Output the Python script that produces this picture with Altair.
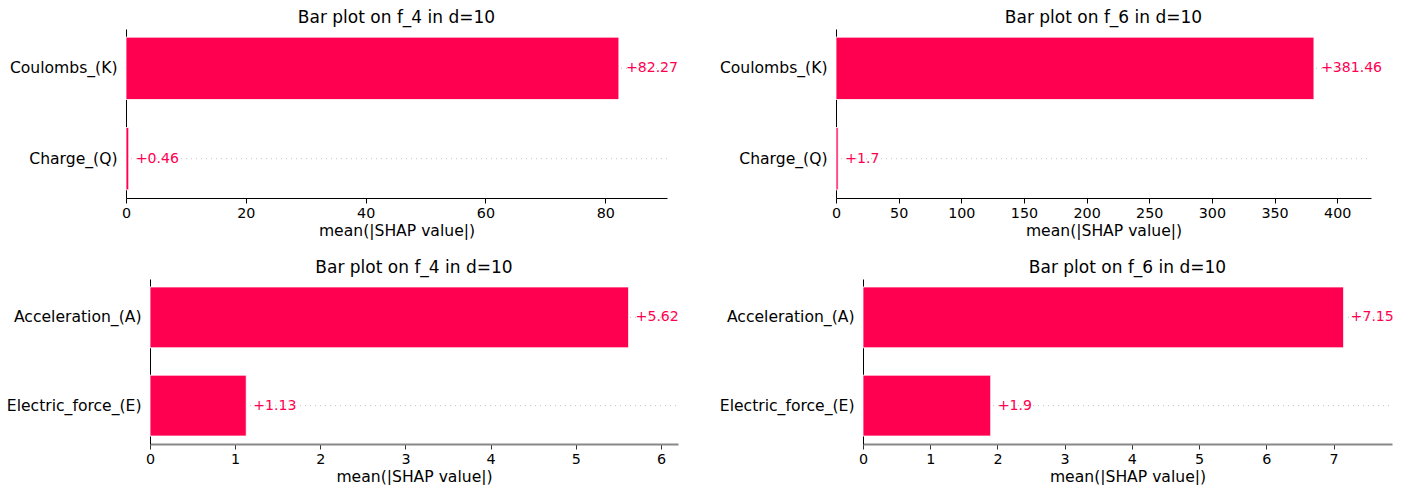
import altair as alt
import pandas as pd

FONT = "DejaVu Sans"
RED = "#ff0051"

# Titles of the four panels (row by row)
TITLES = [
    "Bar plot on f_4 in d=10",
    "Bar plot on f_6 in d=10",
    "Bar plot on f_4 in d=10",
    "Bar plot on f_6 in d=10",
]

# Feature names per row (top bar first)
FEATURES_TOP = ["Coulombs_(K)", "Charge_(Q)"]
FEATURES_BOTTOM = ["Acceleration_(A)", "Electric_force_(E)"]

# mean(|SHAP value|) per panel
VALUES_F4_TOP = [82.27, 0.46]
VALUES_F6_TOP = [381.46, 1.7]
VALUES_F4_BOTTOM = [5.62, 1.13]
VALUES_F6_BOTTOM = [7.15, 1.9]

# x-axis upper limits and tick values per panel
X_MAX = [90.3, 427.0, 6.2, 7.87]
TICKS = [
    [0, 20, 40, 60, 80],
    [0, 50, 100, 150, 200, 250, 300, 350, 400],
    [0, 1, 2, 3, 4, 5, 6],
    [0, 1, 2, 3, 4, 5, 6, 7],
]


def panel(title, features, values, xmax, ticks, width, height,
          domain_color, domain_width, tick_color, inset=0):
    """One SHAP-style bar panel.

    `inset` shifts the plotting area right inside the view, so that the
    first column of the grid can hold y-axes with different label widths.
    """
    df = pd.DataFrame({"feature": features, "value": values})
    df["start"] = 0.0
    df["end"] = xmax

    y_enc = alt.Y(
        "feature:N",
        sort=features,
        scale=alt.Scale(paddingInner=0.31, paddingOuter=0.09),
        axis=alt.Axis(
            title=None, ticks=False, tickSize=0, labelPadding=9,
            offset=-inset,
            labelFontSize=15.6, labelColor="black", labelFont=FONT,
            labelLimit=400, domainColor="black", domainWidth=1,
        ),
    )
    x_scale = alt.Scale(domain=[0, xmax], nice=False, zero=True,
                        range=[inset, inset + width])
    x_axis = alt.Axis(
        values=ticks, title="mean(|SHAP value|)", grid=False,
        tickSize=5, tickColor=tick_color, labelPadding=3,
        labelFontSize=14.3, labelColor="black", labelFont=FONT,
        labelFlush=False, labelOverlap=False,
        titleFontSize=15.6, titleFontWeight="normal", titleColor="black",
        titleFont=FONT, titlePadding=3,
        domainColor=domain_color, domainWidth=domain_width,
    )

    base = alt.Chart(df)
    guide = base.mark_rule(
        color="#999999", strokeWidth=0.6, strokeDash=[1, 4]
    ).encode(x=alt.X("start:Q", scale=x_scale, axis=x_axis),
             x2="end:Q", y=y_enc)
    bars = base.mark_bar(
        color=RED, stroke="white", strokeOpacity=0.8, strokeWidth=1
    ).encode(x=alt.X("value:Q", scale=x_scale, axis=x_axis), y=y_enc)
    labels = base.transform_calculate(
        label="'+' + datum.value"
    ).mark_text(
        align="left", baseline="middle", dx=7, color=RED,
        fontSize=14.1, font=FONT,
    ).encode(x=alt.X("value:Q", scale=x_scale, axis=x_axis), y=y_enc,
             text="label:N")

    return alt.layer(guide, bars, labels).properties(
        width=width + inset,
        height=height,
        title=alt.TitleParams(
            title, fontSize=17, fontWeight="normal", color="black",
            font=FONT, offset=2, dx=inset / 2,
        ),
    )


p1 = panel(TITLES[0], FEATURES_TOP, VALUES_F4_TOP, X_MAX[0], TICKS[0],
           541, 169, "black", 1, "black")
p2 = panel(TITLES[1], FEATURES_TOP, VALUES_F6_TOP, X_MAX[1], TICKS[1],
           535, 169, "black", 1, "black")
p3 = panel(TITLES[2], FEATURES_BOTTOM, VALUES_F4_BOTTOM, X_MAX[2], TICKS[2],
           528, 165, "#888888", 2, "#333333", inset=24)
p4 = panel(TITLES[3], FEATURES_BOTTOM, VALUES_F6_BOTTOM, X_MAX[3], TICKS[3],
           529, 165, "#888888", 2, "#333333")

chart = alt.vconcat(
    alt.hconcat(p1, p2, spacing=40),
    alt.hconcat(p3, p4, spacing=40),
    spacing=20,
).properties(
    padding={"left": 6, "top": 9, "right": 0, "bottom": 0},
    background="white",
).configure_view(stroke=None)

chart.save("out.html", embed_options={"renderer": "svg", "actions": False})
